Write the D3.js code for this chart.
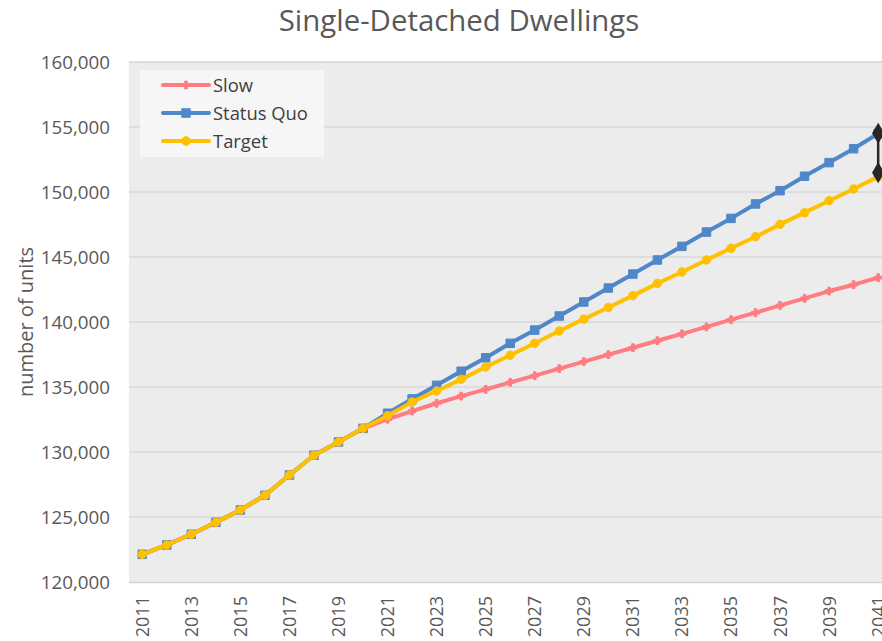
<!DOCTYPE html>
<html>
<head>
<meta charset="utf-8">
<script src="https://cdn.jsdelivr.net/npm/d3@7"></script>
<style>
  html, body { margin: 0; padding: 0; background: #ffffff; }
  svg { display: block; }
  text { font-family: "Open Sans", "Noto Sans", sans-serif; }
</style>
</head>
<body>
<script>
// Categories and series
const years = [2011, 2012, 2013, 2014, 2015, 2016, 2017, 2018, 2019, 2020,
               2021, 2022, 2023, 2024, 2025, 2026, 2027, 2028, 2029, 2030,
               2031, 2032, 2033, 2034, 2035, 2036, 2037, 2038, 2039, 2040, 2041];

const slow = [122130, 122850, 123670, 124590, 125540, 126670, 128230, 129750, 130770, 131800,
              132520, 133150, 133750, 134300, 134820, 135360, 135870, 136410, 136950, 137490,
              138020, 138560, 139090, 139620, 140180, 140720, 141280, 141820, 142380, 142870, 143410];

const statusQuo = [122130, 122850, 123670, 124590, 125540, 126670, 128230, 129750, 130770, 131820,
                   132980, 134080, 135130, 136210, 137250, 138360, 139380, 140460, 141540, 142610,
                   143690, 144770, 145820, 146920, 147970, 149080, 150100, 151210, 152260, 153330, 154500];

const target = [122130, 122850, 123670, 124590, 125540, 126670, 128230, 129750, 130770, 131820,
                132790, 133850, 134690, 135590, 136540, 137440, 138360, 139310, 140220, 141120,
                142030, 142970, 143850, 144770, 145670, 146560, 147510, 148410, 149330, 150230, 151180];

// High/low span marked at the final year
const spanYear = 2041;
const spanValues = [154520, 151490];

const yTicks = [120000, 125000, 130000, 135000, 140000, 145000, 150000, 155000, 160000];
const xTickYears = [2011, 2013, 2015, 2017, 2019, 2021, 2023, 2025, 2027, 2029,
                    2031, 2033, 2035, 2037, 2039, 2041];

const seriesNames = ["Slow", "Status Quo", "Target"];

const W = 882, H = 641;
const plot = { left: 130, top: 61, bottom: 582 };
const band = 24.53;

const svg = d3.select("body").append("svg").attr("width", W).attr("height", H);

const x = d3.scaleBand().domain(years).range([plot.left, plot.left + band * years.length]).padding(0);
const cx = d => x(d) + x.bandwidth() / 2;
const y = d3.scaleLinear().domain([120000, 160000]).range([582, 62]);

// Plot background
svg.append("rect")
  .attr("x", plot.left - 1).attr("y", plot.top)
  .attr("width", W - plot.left + 1).attr("height", plot.bottom - plot.top)
  .attr("fill", "#ececec");

// Gridlines
svg.append("g").selectAll("line").data(yTicks.slice(1)).join("line")
  .attr("x1", plot.left - 1).attr("x2", W)
  .attr("y1", d => y(d)).attr("y2", d => y(d))
  .attr("stroke", "#d9d9d9").attr("stroke-width", 1.5);

// Category axis line
svg.append("line")
  .attr("x1", plot.left - 1).attr("x2", W)
  .attr("y1", y(120000) + 0.5).attr("y2", y(120000) + 0.5)
  .attr("stroke", "#d4d4d4").attr("stroke-width", 1.5);

// Y axis labels
const fmt = d3.format(",");
svg.append("g").selectAll("text").data(yTicks).join("text")
  .attr("x", 110).attr("y", d => y(d))
  .attr("dy", "0.36em")
  .attr("text-anchor", "end")
  .attr("font-size", 18.8)
  .attr("fill", "#595959")
  .text(d => fmt(d));

// X axis labels (rotated)
svg.append("g").selectAll("text").data(xTickYears).join("text")
  .attr("transform", d => `translate(${cx(d)},596) rotate(-90)`)
  .attr("dy", "0.36em")
  .attr("text-anchor", "end")
  .attr("font-size", 18)
  .attr("fill", "#595959")
  .text(d => d);

// Axis title
svg.append("text")
  .attr("transform", `translate(33,322) rotate(-90)`)
  .attr("text-anchor", "middle")
  .attr("font-size", 20)
  .attr("fill", "#595959")
  .text("number of units");

// Chart title
svg.append("text")
  .attr("x", 459).attr("y", 31)
  .attr("text-anchor", "middle")
  .attr("font-size", 29.4)
  .attr("fill", "#595959")
  .text("Single-Detached Dwellings");

// Series
const colors = { "Slow": "#ff7c80", "Status Quo": "#4f87c9", "Target": "#ffc000" };
const symbols = {
  "Slow": d3.symbol().type(d3.symbolCross).size(34),
  "Status Quo": d3.symbol().type(d3.symbolSquare).size(72),
  "Target": d3.symbol().type(d3.symbolCircle).size(56)
};
const seriesData = { "Slow": slow, "Status Quo": statusQuo, "Target": target };

const line = d3.line().x((d, i) => cx(years[i])).y(d => y(d));

seriesNames.forEach(name => {
  const vals = seriesData[name];
  const g = svg.append("g");
  g.append("path")
    .attr("d", line(vals))
    .attr("fill", "none")
    .attr("stroke", colors[name])
    .attr("stroke-width", 4)
    .attr("stroke-linejoin", "round")
    .attr("stroke-linecap", "round");
  g.selectAll("path.m").data(vals).join("path")
    .attr("class", "m")
    .attr("transform", (d, i) => `translate(${cx(years[i])},${y(d)})`)
    .attr("d", symbols[name]())
    .attr("fill", colors[name])
    .attr("stroke", colors[name])
    .attr("stroke-width", 1);
});

// Span between the final Status Quo and Target values
svg.append("line")
  .attr("x1", cx(spanYear)).attr("x2", cx(spanYear))
  .attr("y1", y(spanValues[0])).attr("y2", y(spanValues[1]))
  .attr("stroke", "#262626").attr("stroke-width", 2.5);
svg.append("g").selectAll("path").data(spanValues).join("path")
  .attr("transform", d => `translate(${cx(spanYear)},${y(d)})`)
  .attr("d", d3.symbol().type(d3.symbolDiamond).size(130)())
  .attr("fill", "#262626");

// Legend
const legend = svg.append("g");
legend.append("rect")
  .attr("x", 140).attr("y", 70).attr("width", 184).attr("height", 87)
  .attr("fill", "#f6f6f6");
seriesNames.forEach((name, i) => {
  const ly = 85 + i * 28;
  legend.append("line")
    .attr("x1", 163).attr("x2", 209).attr("y1", ly).attr("y2", ly)
    .attr("stroke", colors[name]).attr("stroke-width", 4)
    .attr("stroke-linecap", "round");
  legend.append("path")
    .attr("transform", `translate(186,${ly})`)
    .attr("d", symbols[name]())
    .attr("fill", colors[name]).attr("stroke", colors[name]);
  legend.append("text")
    .attr("x", 213).attr("y", ly).attr("dy", "0.36em")
    .attr("font-size", 18.4).attr("fill", "#404040")
    .text(name);
});
</script>
</body>
</html>
